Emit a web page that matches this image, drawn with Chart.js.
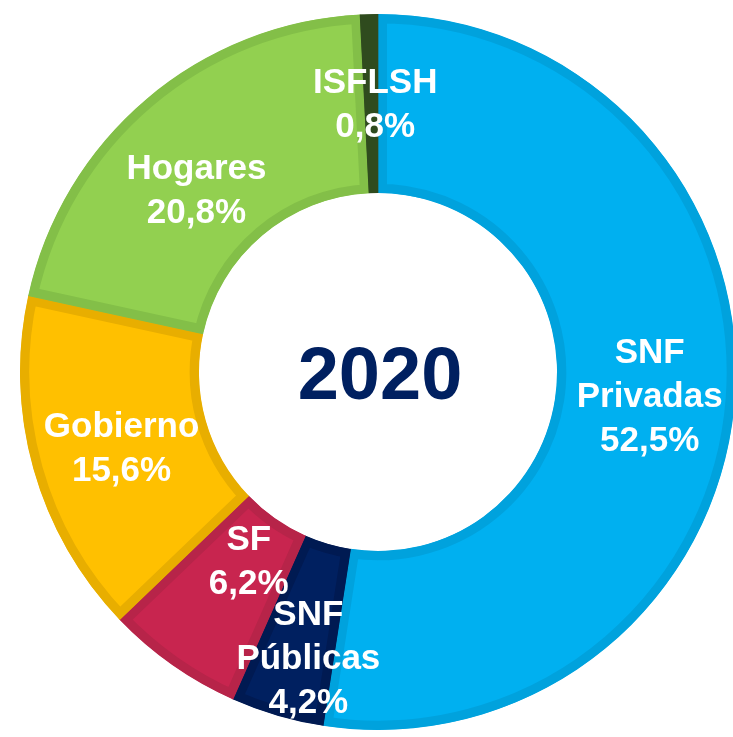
<!DOCTYPE html>
<html>
<head>
<meta charset="utf-8">
<script src="https://cdn.jsdelivr.net/npm/chart.js@4.4.1/dist/chart.umd.min.js"></script>
<style>
  html, body { margin: 0; padding: 0; background: #fff; }
  body { width: 733px; height: 737px; position: relative; overflow: hidden; }
  #wrap { position: absolute; left: 20px; top: 14px; width: 716px; height: 716px; }
</style>
</head>
<body>
<div id="wrap"><canvas id="donut"></canvas></div>
<script>
// Données (en %)
const categories = ['SNF Privadas', 'SNF Públicas', 'SF', 'Gobierno', 'Hogares', 'ISFLSH'];
const shares = [52.5, 4.2, 6.2, 15.6, 20.8, 0.8];
const labelLines = [['SNF', 'Privadas'], ['SNF', 'Públicas'], ['SF'], ['Gobierno'], ['Hogares'], ['ISFLSH']];
const yearLabel = '2020';

// Couleurs
const fillColors = ['#00B0F0', '#002060', '#C8254F', '#FFC000', '#92D050', '#375623'];
const edgeColors = ['#00A2DD', '#001A52', '#B72449', '#E8AE00', '#83BF48', '#2F4B1E'];

// petits décalages des étiquettes par rapport au centre de chaque part
const labelNudge = [[4, 2], [6, 27], [25, -32], [2, 2], [-8, 21], [4, -1]];

const FONT = '"Liberation Sans", Arial, sans-serif';

const labelPlugin = {
    id: 'labelPlugin',
    afterDatasetsDraw(chart) {
        const ctx = chart.ctx;
        const arcs = chart.getDatasetMeta(0).data;
        ctx.save();
        ctx.fillStyle = '#fff';
        ctx.textAlign = 'center';
        ctx.textBaseline = 'alphabetic';
        const size = 35, lh = 44, cap = size * 0.72;
        ctx.font = 'bold ' + size + 'px ' + FONT;
        arcs.forEach((arc, i) => {
            const p = arc.getCenterPoint();
            const lines = labelLines[i].concat([shares[i].toFixed(1).replace('.', ',') + '%']);
            const x = p.x + labelNudge[i][0];
            const y = p.y + labelNudge[i][1];
            const blockH = cap + (lines.length - 1) * lh;
            let base = y - blockH / 2 + cap;
            lines.forEach(t => {
                ctx.fillText(t, x, base);
                base += lh;
            });
        });

        // année au centre
        const c = arcs[0];
        const ys = 74;
        ctx.font = 'bold ' + ys + 'px ' + FONT;
        ctx.fillStyle = '#002060';
        ctx.fillText(yearLabel, c.x + 2, c.y + 1 + ys * 0.358);
        ctx.restore();
    }
};

new Chart(document.getElementById('donut'), {
    type: 'doughnut',
    data: {
        labels: categories,
        datasets: [{
            data: shares,
            backgroundColor: fillColors,
            borderColor: edgeColors,
            borderWidth: 9,
            borderAlign: 'inner',
            borderJoinStyle: 'miter',
            hoverOffset: 0
        }]
    },
    options: {
        responsive: true,
        maintainAspectRatio: false,
        animation: false,
        cutout: '50%',
        rotation: 0,
        layout: { padding: 0 },
        plugins: {
            legend: { display: false },
            tooltip: { enabled: false }
        }
    },
    plugins: [labelPlugin]
});
</script>
</body>
</html>
